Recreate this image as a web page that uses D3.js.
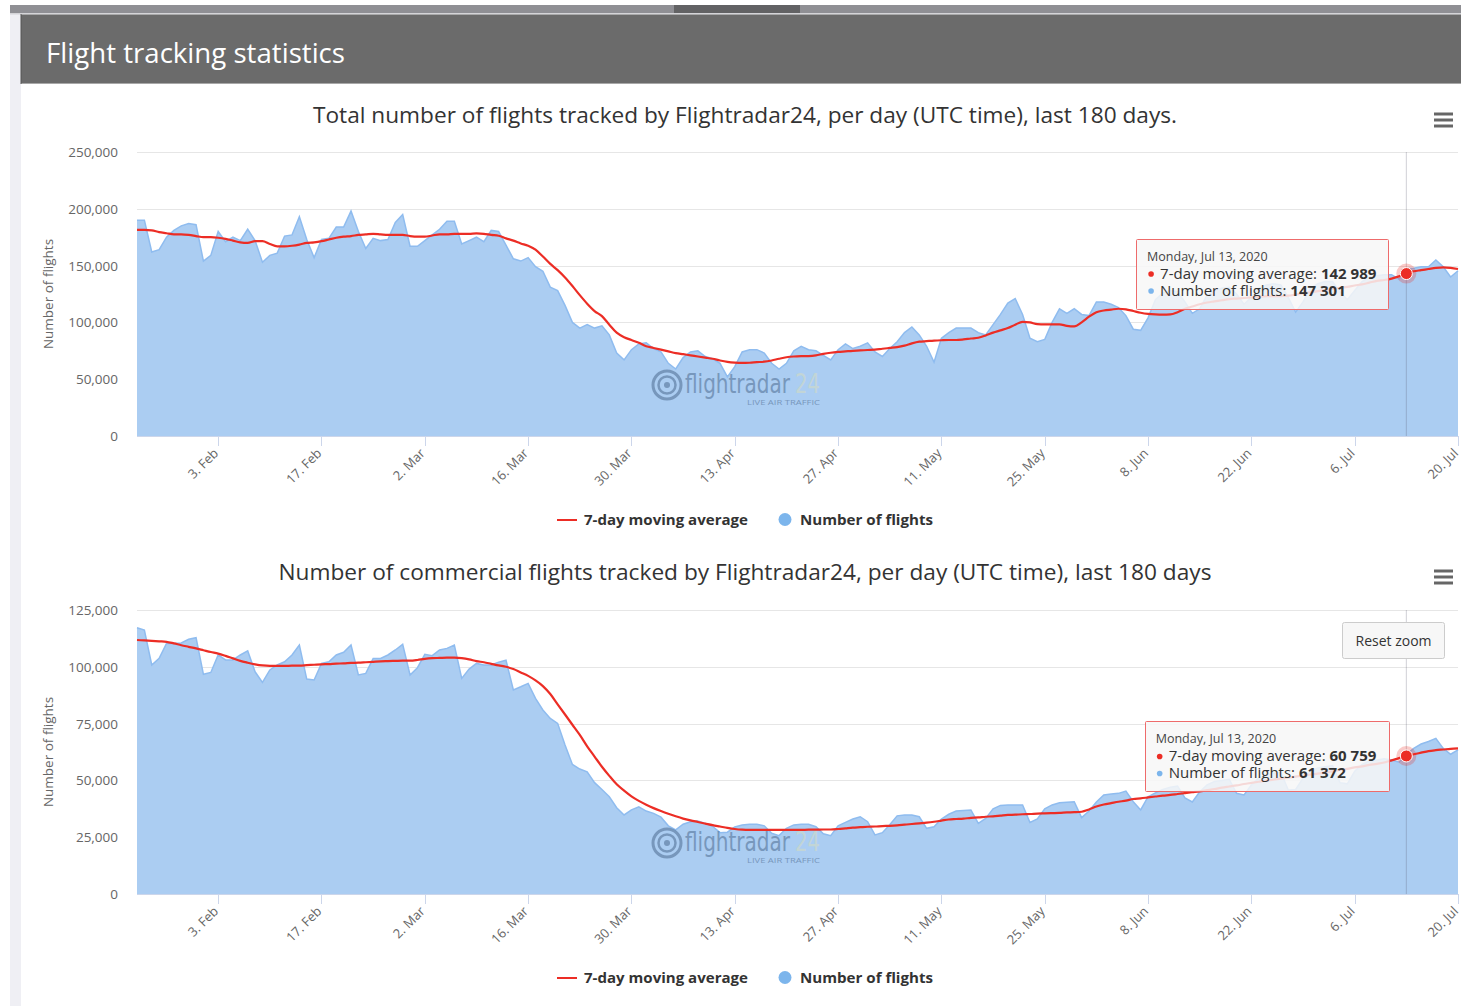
<!DOCTYPE html>
<html>
<head>
<meta charset="utf-8">
<script src="https://cdn.jsdelivr.net/npm/d3@7"></script>
<style>
  body { margin: 0; background: #fff; font-family: "Open Sans", sans-serif; }
  svg { display: block; }
</style>
</head>
<body>
<div id="page"></div>
<script>
var W = 1461, H = 1006

// ---- data ----
var startDate = new Date(Date.UTC(2020, 0, 23))
var tooltipDate = new Date(Date.UTC(2020, 6, 13))
var tickDates = ["2020-02-03", "2020-02-17", "2020-03-02", "2020-03-16", "2020-03-30", "2020-04-13",
  "2020-04-27", "2020-05-11", "2020-05-25", "2020-06-08", "2020-06-22", "2020-07-06", "2020-07-20"]
var seriesNames = ["7-day moving average", "Number of flights"]
var pageTitle = "Flight tracking statistics"
var chartTitles = [
  "Total number of flights tracked by Flightradar24, per day (UTC time), last 180 days.",
  "Number of commercial flights tracked by Flightradar24, per day (UTC time), last 180 days"
]
var yAxisTitle = "Number of flights"
var totalTicks = [0, 50000, 100000, 150000, 200000, 250000]
var commercialTicks = [0, 25000, 50000, 75000, 100000, 125000]

// daily values from 23 Jan 2020, in thousands of flights
var totalFlights = [
  190, 190, 162, 164, 175, 181, 185, 187, 186, 154,
  159, 180, 171, 175, 172, 182, 172, 153, 159, 161,
  176, 177, 193, 173, 157, 173, 174, 184, 184, 198,
  180, 165, 174, 172, 173, 188, 195, 167, 167, 172,
  177, 182, 189, 189, 169, 172, 175, 171, 181, 180,
  168, 156, 154, 157, 149, 145, 131, 128, 115, 100,
  95, 98, 95, 97, 89, 73, 67, 76, 81, 82,
  77, 74, 64, 59, 69, 74, 75, 70, 68, 64,
  52, 61, 74, 76, 76, 73, 64, 59, 64, 75,
  79, 76, 75, 71, 67, 76, 81, 77, 79, 82,
  74, 70, 77, 83, 91, 96, 89, 79, 65, 86,
  91, 95, 95, 95, 91, 89, 98, 107, 117, 121,
  107, 86, 83, 85, 100, 112, 108, 112, 107, 106,
  118, 118, 116, 113, 106, 94, 93, 104, 120, 126,
  128, 127, 118, 108, 112, 124, 128, 130, 131, 125,
  116, 122, 130, 133, 134, 133, 122, 109, 118, 130,
  134, 136, 136, 127, 120, 128, 136, 140, 141, 142,
  142, 138, 147.301, 147.6, 149, 149, 155, 149, 140, 145.5
]
var totalAvg = [
  181.5, 181.5, 181, 179.5, 178.5, 177.5, 177.5, 177, 176, 175,
  175, 174.5, 173.5, 172, 170.5, 170, 171.5, 171.5, 169, 167,
  167, 167.5, 168.5, 170, 170.5, 171.5, 173, 174.5, 175.5, 176,
  177, 177.5, 178, 177.5, 177, 177, 177, 176, 175.5, 175.5,
  176.5, 177.5, 177.5, 178, 178, 178, 178.4, 178, 177, 176.3,
  174, 172, 169.5, 167.5, 164, 158, 151.5, 146, 139.5, 132,
  124, 116.5, 110, 105.5, 98, 91, 87, 84.5, 82, 79,
  77.5, 76, 74.5, 73, 72, 71, 70, 69, 68, 66.5,
  65.3, 64.6, 64.3, 64.5, 65, 65.4, 66.5, 68, 69.3, 70,
  70.3, 70.4, 71, 72.3, 73.3, 74, 74.5, 75, 75.3, 75.7,
  76, 76.8, 77.5, 78.2, 79.5, 81.5, 83, 83.5, 84, 84.3,
  84.5, 84.5, 85, 85.8, 86.5, 88.5, 91, 93, 95, 98,
  100.5, 100, 98.5, 98.3, 98.3, 98.3, 97, 96.5, 100, 105,
  109, 110.5, 111.3, 112, 111.5, 110, 108.5, 107.5, 107, 106.8,
  107, 109, 112, 114, 116, 117.5, 118.5, 119.5, 120.5, 121,
  121.5, 122, 122.5, 123, 123, 123.2, 123.5, 124.5, 125.5, 126.5,
  127.5, 128.5, 129.5, 130.5, 131.3, 132.5, 133.5, 135, 136.5, 137.3,
  138.5, 140.5, 142.989, 145, 146, 147, 148, 148.5, 148, 147
]
var commercialFlights = [
  117.2, 116.2, 100.8, 103.7, 110.3, 110.3, 110.5, 112.1, 112.8, 96.7,
  97.5, 105.2, 103, 103, 105.2, 107, 97.8, 93.1, 98.6, 100.8,
  102.2, 105.2, 109.6, 94.6, 94.2, 101.5, 102.2, 105.2, 106.4, 109.6,
  96.4, 97.1, 103.7, 103.7, 105.2, 107.4, 109.9, 96.4, 99.6, 105.5,
  104.9, 107.4, 108.1, 109.6, 94.9, 99, 101.5, 100.8, 100.8, 102,
  102.9, 89.8, 91.2, 92.7, 86.1, 81, 77.3, 75.1, 65.6, 57,
  55, 53.8, 49, 46, 42.8, 38, 34.8, 37, 38.4, 36.5,
  35.5, 33.8, 30, 28.2, 30.7, 31.8, 32.1, 31.1, 29.8, 27,
  27.2, 29.5, 30.4, 30.7, 30.7, 30, 26.7, 25.7, 28.9, 30.4,
  30.7, 30.7, 29.6, 26.5, 25.7, 30, 31.5, 33, 34, 31.8,
  26, 27, 30.5, 34.4, 34.8, 34.8, 34, 28.9, 29.6, 33,
  35.1, 36.5, 36.8, 37, 31.1, 33.3, 37.5, 39, 39.2, 39.2,
  39.2, 31.5, 33, 37.5, 39.2, 40.2, 40.4, 40.6, 33.6, 36.5,
  40.5, 43.6, 44, 44.3, 45.3, 40.6, 37, 42.8, 44.5, 46,
  47, 47.5, 42.3, 40.5, 45, 48, 49.5, 50, 50.5, 44.3,
  43.6, 48, 51, 52.5, 53, 53.5, 45.8, 46, 51, 54,
  55.5, 56, 56.5, 49, 48.5, 54, 57, 58.5, 59, 59.5,
  59, 58, 61.372, 64.1, 66, 67.1, 68.5, 64.1, 61.5, 63.4
]
var commercialAvg = [
  111.8, 111.6, 111.4, 111.2, 111, 110.3, 109.5, 108.8, 108.1, 107.3,
  106.5, 105.8, 104.8, 103.7, 102.6, 101.8, 101.1, 100.6, 100.4, 100.4,
  100.4, 100.5, 100.5, 100.7, 100.9, 101.1, 101.2, 101.4, 101.5, 101.7,
  101.8, 102, 102.2, 102.4, 102.5, 102.6, 102.7, 102.7, 103, 103.5,
  103.8, 103.9, 104, 104, 103.8, 103.3, 102.5, 102, 101.3, 100.6,
  100, 99, 97.5, 96, 94, 91.5, 88, 83.5, 79, 74.5,
  70, 65, 60.5, 56, 52, 48.3, 45.5, 43, 41, 39.3,
  37.8, 36.5, 35.3, 34.2, 33.2, 32.4, 31.7, 31, 30.3, 29.7,
  29.1, 28.6, 28.3, 28.2, 28.2, 28.2, 28.2, 28.2, 28.2, 28.2,
  28.2, 28.3, 28.3, 28.4, 28.4, 28.6, 28.9, 29.2, 29.4, 29.6,
  29.7, 29.9, 30, 30.2, 30.5, 30.8, 31.1, 31.4, 31.8, 32.3,
  32.8, 33, 33.2, 33.5, 33.7, 34, 34.2, 34.5, 34.8, 34.9,
  35.1, 35.2, 35.4, 35.5, 35.6, 35.7, 35.9, 36, 36.2, 37.2,
  38.5, 39.4, 40, 40.6, 41.1, 41.8, 42.1, 42.5, 42.9, 43.3,
  43.6, 44, 44.4, 44.8, 45.2, 45.7, 46.2, 46.8, 47.3, 47.8,
  48.4, 48.9, 49.4, 49.9, 50.3, 50.8, 51.2, 51.7, 52.1, 52.6,
  53, 53.5, 54, 54.6, 55.1, 55.7, 56.2, 56.8, 57.3, 57.9,
  58.8, 59.8, 60.759, 61.5, 62.2, 62.9, 63.3, 63.6, 63.9, 64.1
]

// ---- layout ----
var RED = "#ec2d25", BLUE_FILL = "#abcdf2", BLUE_LINE = "#8fbcef"
var plotLeft = 137, plotRight = 1458

var days = d3.utcDay.range(startDate, d3.utcDay.offset(startDate, totalFlights.length))
var x = d3.scaleUtc().domain([days[0], days[days.length - 1]]).range([plotLeft, plotRight])
var parseDay = d3.utcParse("%Y-%m-%d")
var fmtTick = d3.utcFormat("%-d. %b")
var fmtTipDate = d3.utcFormat("%A, %b %-d, %Y")
var fmtAxis = d3.format(",")
var fmtTip = d3.formatLocale({decimal: ".", thousands: " ", grouping: [3], currency: ["", ""]}).format(",")

var charts = [
  {title: chartTitles[0], titleW: 864, ticks: totalTicks, flights: totalFlights, avg: totalAvg,
   top: 152, bottom: 436, titleY: 123, legendY: 520, reset: false},
  {title: chartTitles[1], titleW: 933, ticks: commercialTicks, flights: commercialFlights, avg: commercialAvg,
   top: 610, bottom: 894, titleY: 580, legendY: 978, reset: true}
]

var svg = d3.select("#page").append("svg")
  .attr("width", W)
  .attr("height", H)
  .style("font-family", '"Open Sans", sans-serif')

// page frame
svg.append("rect").attr("x", 10).attr("y", 14).attr("width", 11).attr("height", H - 14).attr("fill", "#efeff4")
svg.append("rect").attr("x", 10).attr("y", 5).attr("width", W - 10).attr("height", 8).attr("fill", "#8f8f94")
svg.append("rect").attr("x", 674).attr("y", 5).attr("width", 126).attr("height", 8).attr("fill", "#626264")
svg.append("rect").attr("x", 10).attr("y", 13).attr("width", W - 10).attr("height", 1.5).attr("fill", "#d4d4d8")
svg.append("rect").attr("x", 21).attr("y", 14.5).attr("width", W - 21).attr("height", 69).attr("fill", "#6b6b6b")
svg.append("line").attr("x1", 21).attr("x2", W).attr("y1", 83.5).attr("y2", 83.5).attr("stroke", "#a8a8a8")
svg.append("line").attr("x1", 21).attr("x2", 21).attr("y1", 14).attr("y2", 84).attr("stroke", "#555")
svg.append("text")
  .attr("x", 46).attr("y", 63)
  .attr("textLength", 299).attr("lengthAdjust", "spacingAndGlyphs")
  .attr("fill", "#fff").style("font-size", "27px")
  .text(pageTitle)

charts.forEach(drawChart)

function drawChart(c) {
  var g = svg.append("g")
  var maxV = c.ticks[c.ticks.length - 1]
  var y = d3.scaleLinear().domain([0, maxV]).range([c.bottom, c.top])
  var rows = days.map(function(d, i) {
    return {date: d, v: c.flights[i] * 1000, a: c.avg[i] * 1000}
  })

  // title + menu
  g.append("text")
    .attr("x", 745).attr("y", c.titleY)
    .attr("text-anchor", "middle")
    .attr("textLength", c.titleW).attr("lengthAdjust", "spacingAndGlyphs")
    .attr("fill", "#333").style("font-size", "21px")
    .text(c.title)
  ;[-6, 0, 6].forEach(function(o) {
    g.append("line")
      .attr("x1", 1434).attr("x2", 1453)
      .attr("y1", c.titleY - 3 + o).attr("y2", c.titleY - 3 + o)
      .attr("stroke", "#666").attr("stroke-width", 3)
  })

  // grid + y labels
  g.selectAll("line.grid").data(c.ticks).enter().append("line")
    .attr("class", "grid")
    .attr("x1", plotLeft).attr("x2", plotRight)
    .attr("y1", function(d) { return Math.round(y(d)) + 0.5 })
    .attr("y2", function(d) { return Math.round(y(d)) + 0.5 })
    .attr("stroke", "#e6e6e6")
  g.selectAll("text.ylab").data(c.ticks).enter().append("text")
    .attr("class", "ylab")
    .attr("x", 118).attr("y", function(d) { return y(d) + 5 })
    .attr("text-anchor", "end")
    .attr("fill", "#666").style("font-size", "13.5px")
    .text(function(d) { return fmtAxis(d) })
  g.append("text")
    .attr("transform", "translate(53," + ((c.top + c.bottom) / 2) + ") rotate(-90)")
    .attr("text-anchor", "middle")
    .attr("fill", "#666").style("font-size", "13.5px")
    .text(yAxisTitle)

  // area series
  var area = d3.area()
    .x(function(d) { return x(d.date) })
    .y0(y(0))
    .y1(function(d) { return y(d.v) })
  var topLine = d3.line()
    .x(function(d) { return x(d.date) })
    .y(function(d) { return y(d.v) })
  g.append("path").datum(rows).attr("d", area).attr("fill", BLUE_FILL)
  g.append("path").datum(rows).attr("d", topLine)
    .attr("fill", "none").attr("stroke", BLUE_LINE).attr("stroke-width", 1.5)

  // watermark (one text block)
  var wy = c.bottom - 51
  var wm = g.append("g").attr("opacity", 0.55)
  wm.append("circle").attr("cx", 667).attr("cy", wy).attr("r", 14)
    .attr("fill", "none").attr("stroke", "#4d6b90").attr("stroke-width", 3)
  wm.append("circle").attr("cx", 667).attr("cy", wy).attr("r", 8.5)
    .attr("fill", "none").attr("stroke", "#4d6b90").attr("stroke-width", 2.5)
  wm.append("circle").attr("cx", 667).attr("cy", wy).attr("r", 3).attr("fill", "#4d6b90")
  var wt = wm.append("text")
    .style("font-family", '"Liberation Sans Narrow", "DejaVu Sans Condensed", sans-serif')
  wt.append("tspan")
    .attr("x", 685).attr("y", wy + 8)
    .attr("textLength", 105).attr("lengthAdjust", "spacingAndGlyphs")
    .attr("fill", "#4d6b90").style("font-size", "27px")
    .text("flightradar")
  wt.append("tspan")
    .attr("x", 795).attr("y", wy + 8)
    .attr("textLength", 25).attr("lengthAdjust", "spacingAndGlyphs")
    .attr("fill", "#d6dcc0").style("font-size", "27px")
    .text("24")
  wt.append("tspan")
    .attr("x", 747).attr("y", wy + 20)
    .attr("textLength", 73).attr("lengthAdjust", "spacingAndGlyphs")
    .attr("fill", "#4d6b90").style("font-size", "6.5px")
    .style("font-family", '"Open Sans", sans-serif')
    .text("LIVE AIR TRAFFIC")

  // moving average
  var avgLine = d3.line()
    .curve(d3.curveMonotoneX)
    .x(function(d) { return x(d.date) })
    .y(function(d) { return y(d.a) })
  g.append("path").datum(rows).attr("d", avgLine)
    .attr("fill", "none").attr("stroke", RED).attr("stroke-width", 2.2)

  // x axis
  g.append("line")
    .attr("x1", plotLeft).attr("x2", plotRight)
    .attr("y1", c.bottom + 0.5).attr("y2", c.bottom + 0.5)
    .attr("stroke", "#ccd6eb")
  var tks = tickDates.map(parseDay)
  g.selectAll("line.xt").data(tks).enter().append("line")
    .attr("class", "xt")
    .attr("x1", function(d) { return Math.round(x(d)) + 0.5 })
    .attr("x2", function(d) { return Math.round(x(d)) + 0.5 })
    .attr("y1", c.bottom).attr("y2", c.bottom + 10)
    .attr("stroke", "#ccd6eb")
  g.selectAll("text.xl").data(tks).enter().append("text")
    .attr("class", "xl")
    .attr("transform", function(d) {
      return "translate(" + (x(d) + 1) + "," + (c.bottom + 18) + ") rotate(-45)"
    })
    .attr("text-anchor", "end")
    .attr("fill", "#666").style("font-size", "13px")
    .text(function(d) { return fmtTick(d) })

  // hover state
  var hi = d3.utcDay.count(startDate, tooltipDate)
  var hd = rows[hi]
  var mx = x(hd.date), my = y(hd.a)
  g.append("line")
    .attr("x1", mx).attr("x2", mx).attr("y1", c.top).attr("y2", c.bottom)
    .attr("stroke", "rgba(90,90,110,0.28)")
  g.append("circle").attr("cx", mx).attr("cy", my).attr("r", 10)
    .attr("fill", RED).attr("opacity", 0.25)
  g.append("circle").attr("cx", mx).attr("cy", my).attr("r", 6)
    .attr("fill", RED).attr("stroke", "#fff").attr("stroke-width", 1)

  // tooltip: one text block with a tspan per line
  var tip = g.append("g")
  var box = tip.append("rect").attr("fill", "rgba(247,247,247,0.85)")
    .attr("stroke", "#ee6b6b").attr("stroke-width", 1).attr("rx", 1)
  var boxTop = my - 34.5
  var tt = tip.append("text").attr("fill", "#333")
  var t0 = tt.append("tspan").attr("y", boxTop + 22)
    .attr("fill", "#444").style("font-size", "12.5px")
    .text(fmtTipDate(hd.date))
  var lines = [
    {name: seriesNames[0], val: hd.a, col: RED, dy: 39.5},
    {name: seriesNames[1], val: hd.v, col: "#7cb5ec", dy: 56.5}
  ]
  var rowsT = lines.map(function(l) {
    var a = tt.append("tspan").attr("y", boxTop + l.dy).style("font-size", "15px").text(l.name + ": ")
    var b = tt.append("tspan").attr("font-weight", 700).style("font-size", "15px").text(fmtTip(Math.round(l.val)))
    return [a, b]
  })
  var tw = d3.max(rowsT, function(r) {
    return r[0].node().getComputedTextLength() + r[1].node().getComputedTextLength()
  })
  var bw = 24 + tw + 12
  var bx = mx - 18 - bw
  box.attr("x", Math.round(bx) + 0.5).attr("y", Math.round(boxTop) + 0.5)
    .attr("width", Math.round(bw)).attr("height", 70)
  t0.attr("x", bx + 11)
  rowsT.forEach(function(r, i) {
    r[0].attr("x", bx + 24)
    tip.append("circle").attr("cx", bx + 15).attr("cy", boxTop + lines[i].dy - 4.5)
      .attr("r", 2.8).attr("fill", lines[i].col)
  })

  // reset zoom button
  if (c.reset) {
    g.append("rect").attr("x", 1342.5).attr("y", 622.5).attr("width", 102).attr("height", 36)
      .attr("rx", 2).attr("fill", "#f7f7f7").attr("stroke", "#cccccc")
    g.append("text").attr("x", 1393.5).attr("y", 645.5).attr("text-anchor", "middle")
      .attr("fill", "#333").style("font-size", "14px").text("Reset zoom")
  }

  // legend
  var ly = c.legendY
  g.append("line").attr("x1", 557).attr("x2", 577).attr("y1", ly).attr("y2", ly)
    .attr("stroke", RED).attr("stroke-width", 2)
  g.append("text").attr("x", 584).attr("y", ly + 5)
    .attr("textLength", 164).attr("lengthAdjust", "spacingAndGlyphs")
    .attr("fill", "#333").attr("font-weight", 700).style("font-size", "14px")
    .text(seriesNames[0])
  g.append("circle").attr("cx", 785).attr("cy", ly - 0.5).attr("r", 6.5).attr("fill", "#7cb5ec")
  g.append("text").attr("x", 800).attr("y", ly + 5)
    .attr("textLength", 133).attr("lengthAdjust", "spacingAndGlyphs")
    .attr("fill", "#333").attr("font-weight", 700).style("font-size", "14px")
    .text(seriesNames[1])
}
</script>
</body>
</html>
